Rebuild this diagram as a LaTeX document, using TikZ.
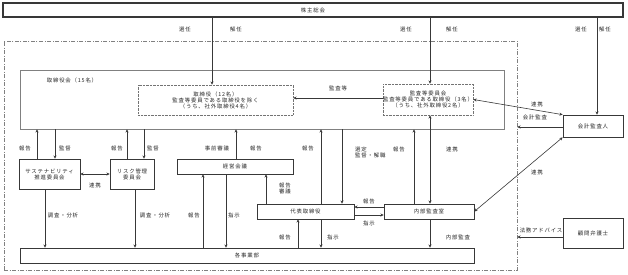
\documentclass[tikz,border=0pt]{standalone}
\usepackage{fontspec}
\newfontfamily\jp[LetterSpace=15]{Noto Sans CJK JP}
\usetikzlibrary{arrows.meta}
\definecolor{ln}{HTML}{383838}
\definecolor{txt}{HTML}{262626}
\newcommand\fs{\jp\fontsize{5.4}{6}\selectfont}
\tikzset{
 bx/.style={draw=ln, line width=0.7pt, fill=white, inner sep=0pt, text=txt, font=\fs, align=center},
 dbx/.style={bx, draw=black!55, dash pattern=on 0.7pt off 0.7pt},
 lbl/.style={inner sep=0pt, text=txt, font=\fs, align=center},
 arr/.style={draw=ln, line width=0.8pt, -{Stealth[length=3.2pt,width=3pt]}},
 darr/.style={draw=ln, line width=0.6pt, {Stealth[length=3.2pt,width=3pt]}-{Stealth[length=3.2pt,width=3pt]}},
}
\begin{document}
\begin{tikzpicture}[x=1pt,y=-1pt]
\useasboundingbox (0,0) rectangle (628,274);
\fill[white] (0,0) rectangle (628,274);
% boxes
\node[draw=gray, line width=0.6pt, dash pattern=on 4pt off 1.5pt on 1pt off 1.5pt, minimum width=513, minimum height=229, inner sep=0pt] (grp) at (260.5,155.5) {};
\node[bx, line width=1.1pt, minimum width=620, minimum height=14] (kabu) at (313,10) {株主総会};
\node[bx, draw=gray, minimum width=484, minimum height=59] (board) at (262,99.5) {};
\node[lbl] (boardlbl) at (72,80.5) {取締役会（15名）};
\node[dbx, minimum width=155, minimum height=30] (tori) at (215.5,100) {取締役（12名）\\監査等委員である取締役を除く\\（うち、社外取締役4名）};
\node[dbx, minimum width=90, minimum height=31] (kansa) at (428,99.5) {監査等委員会\\監査等委員である取締役（3名）\\（うち、社外取締役2名）};
\node[bx, minimum width=60, minimum height=22] (kaikei) at (593,126) {会計監査人};
\node[bx, minimum width=60, minimum height=30] (komon) at (593,233) {顧問弁護士};
\node[bx, minimum width=61, minimum height=30] (sust) at (49.5,174) {サステナビリティ\\推進委員会};
\node[bx, minimum width=44, minimum height=30] (risk) at (132,174) {リスク管理\\委員会};
\node[bx, minimum width=116, minimum height=15] (keiei) at (235,166.5) {経営会議};
\node[bx, minimum width=97, minimum height=15] (daihyo) at (305.5,211.5) {代表取締役};
\node[bx, minimum width=90, minimum height=15] (naibu) at (429,211.5) {内部監査室};
\node[bx, minimum width=454, minimum height=15] (jigyo) at (247,255.5) {各事業部};
% helper coordinates
\foreach \v in {37,45,55,127,135,144,203,212,226,236,266,298,321,342,414,430,597}
  {\coordinate (x\v) at (\v,0);}
\foreach \v in {98,127,207,215,237}
  {\coordinate (y\v) at (0,\v);}
% vertical arrows
\draw[arr] (sust.north -| x37) -- (board.south -| x37);
\draw[arr] (board.south -| x55) -- (sust.north -| x55);
\draw[arr] (risk.north -| x127) -- (board.south -| x127);
\draw[arr] (board.south -| x144) -- (risk.north -| x144);
\draw[arr] (sust.south -| x45) -- (jigyo.north -| x45);
\draw[arr] (risk.south -| x135) -- (jigyo.north -| x135);
\draw[arr] (keiei.north -| x236) -- (board.south -| x236);
\draw[arr] (jigyo.north -| x203) -- (keiei.south -| x203);
\draw[arr] (keiei.south -| x226) -- (jigyo.north -| x226);
\draw[arr] (daihyo.north -| x266) -- (keiei.south -| x266);
\draw[arr] (daihyo.north -| x321) -- (board.south -| x321);
\draw[arr] (board.south -| x342) -- (daihyo.north -| x342);
\draw[arr] (jigyo.north -| x298) -- (daihyo.south -| x298);
\draw[arr] (daihyo.south -| x321) -- (jigyo.north -| x321);
\draw[arr] (naibu.north -| x414) -- (board.south -| x414);
\draw[darr] (kansa.south -| x430) -- (naibu.north -| x430);
\draw[arr] (naibu.south -| x430) -- (jigyo.north -| x430);
\draw[arr] (kabu.south -| x212) -- (tori.north -| x212);
\draw[arr] (kabu.south -| x430) -- (kansa.north -| x430);
\draw[arr] (kabu.south -| x597) -- (kaikei.north -| x597);
% horizontal arrows
\draw[arr] (kansa.west |- y98) -- (tori.east |- y98);
\draw[darr] (sust.east) -- (risk.west);
\draw[arr] (naibu.west |- y207) -- (daihyo.east |- y207);
\draw[arr] (daihyo.east |- y215) -- (naibu.west |- y215);
\draw[arr] (kaikei.west |- y127) -- (grp.east |- y127);
\draw[arr] (komon.west |- y237) -- (grp.east |- y237);
\draw[darr] (kansa.east) -- (kaikei.north west);
\draw[darr] (kaikei.south west) -- (naibu.east);
% labels
\node[lbl] (l1) at (185,29) {選任};
\node[lbl] (l2) at (236,29) {解任};
\node[lbl] (l3) at (406,29) {選任};
\node[lbl] (l4) at (452,29) {解任};
\node[lbl] (l5) at (581,29) {選任};
\node[lbl] (l6) at (605,29) {解任};
\node[lbl] (l7) at (338,88) {監査等};
\node[lbl] (l8) at (537,104) {連携};
\node[lbl] (l9) at (535,117) {会計監査};
\node[lbl] (l10) at (537,172) {連携};
\node[lbl] (l11) at (541,230) {法務アドバイス};
\node[lbl] (l12) at (25,148) {報告};
\node[lbl] (l13) at (65,148) {監督};
\node[lbl] (l14) at (117,148) {報告};
\node[lbl] (l15) at (153,148) {監督};
\node[lbl] (l16) at (95,185) {連携};
\node[lbl] (l17) at (63,215) {調査・分析};
\node[lbl] (l18) at (155,215) {調査・分析};
\node[lbl] (l19) at (217,148) {事前審議};
\node[lbl] (l20) at (256,148) {報告};
\node[lbl] (l21) at (308,148) {報告};
\node[lbl, align=left, anchor=west] (l22) at (355,152.5) {選定\\監督・解職};
\node[lbl] (l23) at (399,149) {報告};
\node[lbl] (l24) at (452,149) {連携};
\node[lbl] (l25) at (285,188) {報告\\審議};
\node[lbl] (l26) at (369,201) {報告};
\node[lbl] (l27) at (369,223) {指示};
\node[lbl] (l28) at (194,215) {報告};
\node[lbl] (l29) at (234,215) {指示};
\node[lbl] (l30) at (285,237) {報告};
\node[lbl] (l31) at (333,237) {指示};
\node[lbl] (l32) at (458,237) {内部監査};
\end{tikzpicture}
\end{document}
